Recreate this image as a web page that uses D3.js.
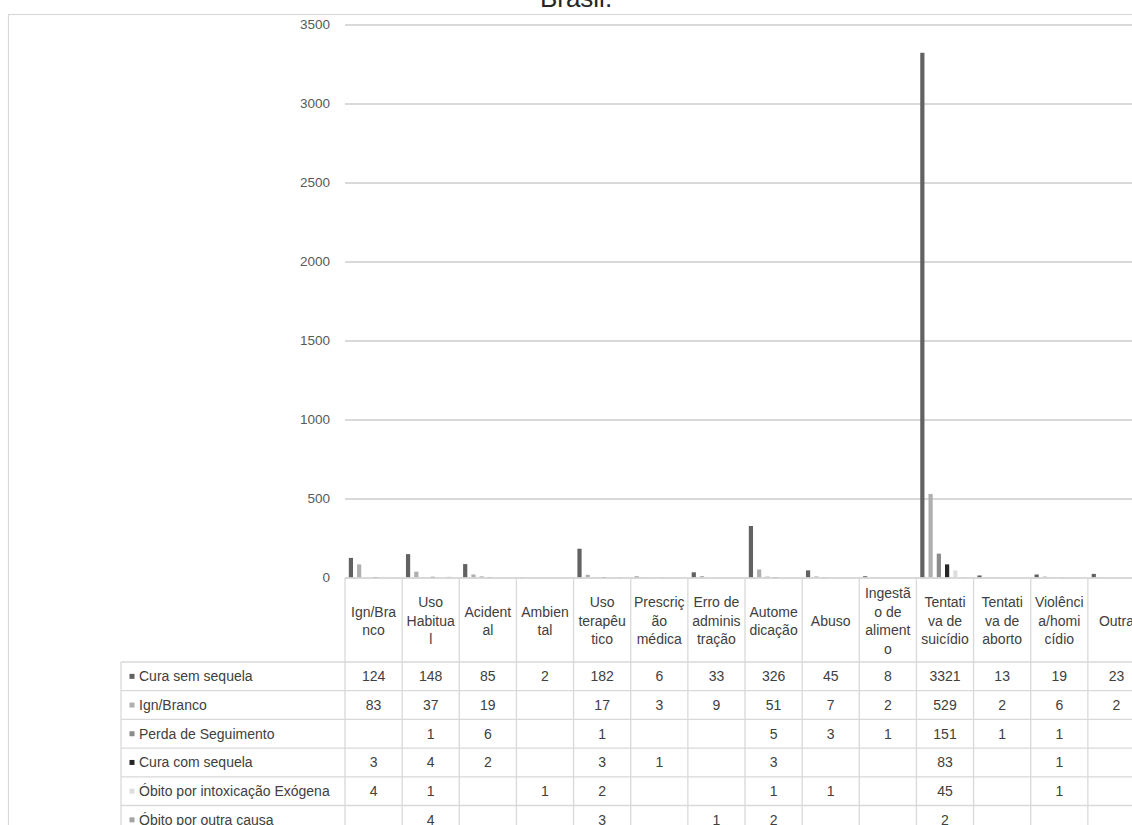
<!DOCTYPE html>
<html>
<head>
<meta charset="utf-8">
<script src="https://cdn.jsdelivr.net/npm/d3@7/dist/d3.min.js"></script>
<style>
  html, body { margin: 0; padding: 0; background: #fff; overflow: hidden; }
  svg { display: block; }
  text { font-family: "Liberation Sans", Arial, sans-serif; }
</style>
</head>
<body>
<svg id="chart" width="1132" height="825"></svg>
<script>
// Categories (circumstance) and the wrapped header lines shown in the data table
const categories = ["Ign/Branco", "Uso Habitual", "Acidental", "Ambiental", "Uso terapêutico",
  "Prescrição médica", "Erro de administração", "Automedicação", "Abuso",
  "Ingestão de alimento", "Tentativa de suicídio", "Tentativa de aborto",
  "Violência/homicídio", "Outra"];
const categoryLines = [["Ign/Bra", "nco"], ["Uso", "Habitua", "l"], ["Acident", "al"],
  ["Ambien", "tal"], ["Uso", "terapêu", "tico"], ["Prescriç", "ão", "médica"],
  ["Erro de", "adminis", "tração"], ["Autome", "dicação"], ["Abuso"],
  ["Ingestã", "o de", "aliment", "o"], ["Tentati", "va de", "suicídio"],
  ["Tentati", "va de", "aborto"], ["Violênci", "a/homi", "cídio"], ["Outra"]];

// Outcome series (null = no cases)
const seriesNames = ["Cura sem sequela", "Ign/Branco", "Perda de Seguimento",
  "Cura com sequela", "Óbito por intoxicação Exógena", "Óbito por outra causa"];
const curaSemSequela   = [124, 148, 85, 2, 182, 6, 33, 326, 45, 8, 3321, 13, 19, 23];
const ignBranco        = [83, 37, 19, null, 17, 3, 9, 51, 7, 2, 529, 2, 6, 2];
const perdaSeguimento  = [null, 1, 6, null, 1, null, null, 5, 3, 1, 151, 1, 1, null];
const curaComSequela   = [3, 4, 2, null, 3, 1, null, 3, null, null, 83, null, 1, null];
const obitoIntoxicacao = [4, 1, null, 1, 2, null, null, 1, 1, null, 45, null, 1, null];
const obitoOutraCausa  = [null, 4, null, null, 3, null, 1, 2, null, null, 2, null, null, null];
const seriesValues = [curaSemSequela, ignBranco, perdaSeguimento, curaComSequela,
  obitoIntoxicacao, obitoOutraCausa];
const yTicks = [0, 500, 1000, 1500, 2000, 2500, 3000, 3500];
const title = "Brasil.";

const colors = ["#626262", "#afafaf", "#8b8b8b", "#262626", "#dedede", "#a3a3a3"];
const gridColor = "#d9d9d9";
const textColor = "#404040";
const fontSize = 14;

const svg = d3.select("#chart");

// Layout
const plotLeft = 345, plotRight = 1145;
const plotTop = 24.5, plotBottom = 577.5;
const headerBottom = 662;
const rowH = 28.7;
const labelLeft = 121;

// Chart area frame
svg.append("rect")
  .attr("x", 8.5).attr("y", 14.5)
  .attr("width", 1136).attr("height", 900)
  .attr("fill", "none").attr("stroke", gridColor).attr("stroke-width", 1.2);

// Title
svg.append("text")
  .attr("x", 576).attr("y", 7)
  .attr("text-anchor", "middle")
  .attr("font-size", 26)
  .attr("fill", "#262626")
  .text(title);

const x = d3.scaleBand().domain(categories).range([plotLeft, plotRight]).paddingInner(0).paddingOuter(0);
const y = d3.scaleLinear().domain([0, 3500]).range([plotBottom, plotTop]);

// Series slots inside each category
const groupW = 49.5;
const x1 = d3.scaleBand().domain(seriesNames)
  .range([(x.bandwidth() - groupW) / 2, (x.bandwidth() + groupW) / 2]);
const barW = x1.step() * 0.51;

// Gridlines and value axis
const yAxis = d3.axisLeft(y).tickValues(yTicks).tickFormat(d3.format("d"))
  .tickSize(-(plotRight - plotLeft)).tickPadding(15);
const gy = svg.append("g").attr("transform", `translate(${plotLeft},0)`).call(yAxis);
gy.select(".domain").remove();
gy.selectAll(".tick line").attr("stroke", gridColor).attr("stroke-width", 1.3)
  .attr("shape-rendering", "crispEdges");
gy.selectAll(".tick text").attr("font-size", 13.5).attr("fill", "#595959")
  .attr("font-family", "Liberation Sans, Arial, sans-serif");

// Bars
const barData = [];
seriesValues.forEach((vals, si) => {
  vals.forEach((v, ci) => {
    if (v != null) barData.push({ s: seriesNames[si], si, c: categories[ci], v });
  });
});
svg.append("g").selectAll("rect").data(barData).join("rect")
  .attr("x", d => x(d.c) + x1(d.s))
  .attr("y", d => y(d.v))
  .attr("width", barW)
  .attr("height", d => y(0) - y(d.v))
  .attr("fill", d => colors[d.si]);

// Data table
const table = svg.append("g");
const tableBottom = headerBottom + rowH * seriesNames.length;

// Vertical rules between categories
const bounds = categories.map(c => x(c)).concat([plotRight]);
table.selectAll("line.v").data(bounds).join("line")
  .attr("x1", d => d).attr("x2", d => d)
  .attr("y1", plotBottom).attr("y2", tableBottom)
  .attr("stroke", gridColor).attr("stroke-width", 1.3);
// Left edge of row-label column
table.append("line")
  .attr("x1", labelLeft).attr("x2", labelLeft)
  .attr("y1", headerBottom).attr("y2", tableBottom)
  .attr("stroke", gridColor).attr("stroke-width", 1.3);
// Horizontal rules
const rowLines = d3.range(seriesNames.length + 1).map(i => headerBottom + i * rowH);
table.selectAll("line.h").data(rowLines).join("line")
  .attr("x1", labelLeft).attr("x2", plotRight)
  .attr("y1", d => d).attr("y2", d => d)
  .attr("stroke", gridColor).attr("stroke-width", 1.3);
// Category axis line
table.append("line")
  .attr("x1", plotLeft).attr("x2", plotRight)
  .attr("y1", plotBottom + 0.5).attr("y2", plotBottom + 0.5)
  .attr("stroke", gridColor).attr("stroke-width", 1.5);

// Header labels
const lineH = 18.5, headerMid = 621;
categories.forEach((c, i) => {
  const lines = categoryLines[i];
  const t = table.append("text")
    .attr("x", x(c) + x.bandwidth() / 2)
    .attr("text-anchor", "middle")
    .attr("font-size", fontSize)
    .attr("fill", textColor);
  lines.forEach((ln, j) => {
    t.append("tspan")
      .attr("x", x(c) + x.bandwidth() / 2)
      .attr("y", headerMid + (j - (lines.length - 1) / 2) * lineH)
      .attr("dy", "0.35em")
      .text(ln);
  });
});

// Rows: legend key, series name, values
seriesNames.forEach((s, si) => {
  const cy = headerBottom + (si + 0.5) * rowH;
  table.append("rect")
    .attr("x", 129.5).attr("y", cy - 2.5).attr("width", 5).attr("height", 5)
    .attr("fill", colors[si]);
  table.append("text")
    .attr("x", 139).attr("y", cy).attr("dy", "0.35em")
    .attr("font-size", fontSize).attr("fill", textColor)
    .text(s);
  seriesValues[si].forEach((v, ci) => {
    if (v == null) return;
    table.append("text")
      .attr("x", x(categories[ci]) + x.bandwidth() / 2)
      .attr("y", cy).attr("dy", "0.35em")
      .attr("text-anchor", "middle")
      .attr("font-size", fontSize).attr("fill", textColor)
      .text(v);
  });
});
</script>
</body>
</html>
